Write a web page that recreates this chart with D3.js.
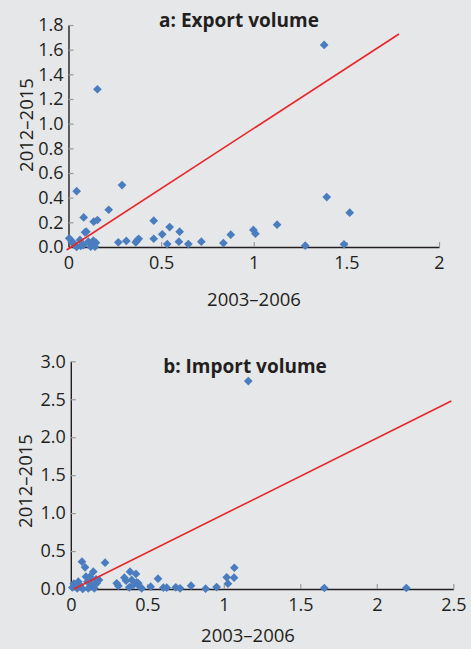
<!DOCTYPE html>
<html>
<head>
<meta charset="utf-8">
<script src="https://cdn.jsdelivr.net/npm/d3@7"></script>
<style>
  html, body { margin: 0; padding: 0; background: #e6e7e9; }
  svg { display: block; }
  text { font-family: "Open Sans", "Liberation Sans", sans-serif; fill: #231f20; }
  .title { font-weight: 700; font-size: 19px; }
  .lbl { font-size: 18.5px; }
  .tick text { font-size: 18px; }
</style>
</head>
<body>
<div id="chart"></div>
<script>
// panel a: export volume (x = 2003-2006, y = 2012-2015)
var exportX = [1.38, 0.156, 0.044, 0.289, 0.217, 0.082, 0.136, 0.156, 0.096, 0.46, 0.46, 0.506, 0.546,
  0.533, 0.6, 0.596, 0.647, 0.717, 0.836, 0.876, 0.269, 0.312, 0.363, 0.379, 0.37,
  0.004, 0.017, 0.035, 0.062, 0.066, 0.089, 0.08, 0.107, 0.125, 0.134, 0.148, 0.12, 0.044, 0.026, 0.143,
  0.998, 1.009, 1.126, 1.278, 1.394, 1.518, 1.487];
var exportY = [1.638, 1.279, 0.453, 0.502, 0.302, 0.24, 0.205, 0.219, 0.124, 0.213, 0.067, 0.103, 0.162,
  0.024, 0.124, 0.043, 0.024, 0.043, 0.032, 0.1, 0.038, 0.049, 0.038, 0.067, 0.052,
  0.07, 0.04, 0.016, 0.057, 0.008, 0.119, 0.016, 0.043, 0.024, 0.051, 0.035, 0.003, 0.0, 0.035, 0.003,
  0.138, 0.108, 0.181, 0.011, 0.405, 0.278, 0.022];
var exportLine = [[-0.01, -0.024], [1.784, 1.727]];

// panel b: import volume
var importX = [1.16, 1.657, 2.193, 1.069, 1.067, 1.019, 1.027, 0.953, 0.881, 0.786, 0.714, 0.686, 0.627, 0.605, 0.57, 0.522,
  0.3, 0.311, 0.35, 0.361, 0.387, 0.398, 0.426, 0.431, 0.441, 0.452, 0.463, 0.382, 0.409,
  0.073, 0.093, 0.224, 0.184, 0.147, 0.125, 0.099, 0.049, 0.034, 0.06, 0.108, 0.114, 0.137, 0.154, 0.169, 0.078, 0.042,
  0.165, 0.141, 0.02, 0.01, 0.13];
var importY = [2.74, 0.013, 0.013, 0.28, 0.149, 0.154, 0.07, 0.026, 0.004, 0.044, 0.009, 0.022, 0.017, 0.017, 0.136, 0.03,
  0.075, 0.04, 0.149, 0.11, 0.228, 0.119, 0.198, 0.088, 0.075, 0.03, 0.009, 0.022, 0.053,
  0.36, 0.286, 0.347, 0.119, 0.228, 0.162, 0.162, 0.096, 0.03, 0.053, 0.096, 0.009, 0.053, 0.009, 0.075, 0.0, 0.009,
  0.128, 0.06, 0.07, 0.02, 0.13];
var importLine = [[0.02, 0.0], [2.487, 2.477]];

var xTicksA = [0, 0.5, 1, 1.5, 2], yTicksA = [0, 0.2, 0.4, 0.6, 0.8, 1.0, 1.2, 1.4, 1.6, 1.8];
var xTicksB = [0, 0.5, 1, 1.5, 2, 2.5], yTicksB = [0, 0.5, 1.0, 1.5, 2.0, 2.5, 3.0];

var W = 471, H = 649;
var svg = d3.select("#chart").append("svg").attr("width", W).attr("height", H);
svg.append("rect").attr("width", W).attr("height", H).attr("fill", "#e6e7e9");

function panel(o) {
  var x = d3.scaleLinear().domain(o.xd).range(o.xr);
  var y = d3.scaleLinear().domain(o.yd).range(o.yr);
  var g = svg.append("g");

  var xa = g.append("g").attr("transform", "translate(0," + o.yr[0] + ")")
    .call(d3.axisBottom(x).tickValues(o.xt).tickSizeInner(-5).tickSizeOuter(0).tickPadding(9).tickFormat(d3.format("")));
  var ya = g.append("g").attr("transform", "translate(" + o.xr[0] + ",0)")
    .call(d3.axisLeft(y).tickValues(o.yt).tickSizeInner(-5).tickSizeOuter(0).tickPadding(5).tickFormat(d3.format(".1f")));
  [xa, ya].forEach(function(a) {
    a.select(".domain").attr("stroke", "#231f20").attr("stroke-width", 1.4);
    a.selectAll(".tick line").attr("stroke", "#9a9a9a").attr("stroke-width", 1.2);
    a.selectAll(".tick text").attr("fill", "#231f20");
  });
  xa.selectAll(".tick").filter(function(d) { return d === 0; }).select("line").remove();
  ya.selectAll(".tick").filter(function(d) { return d === 0; }).select("line").remove();

  g.selectAll(".pt").data(o.xs).enter().append("path").attr("class", "pt")
    .attr("d", d3.symbol().type(d3.symbolSquare).size(38))
    .attr("fill", "#4a7dbf")
    .attr("transform", function(d, i) { return "translate(" + x(d) + "," + y(o.ys[i]) + ") rotate(45)"; });

  g.append("path").datum(o.line)
    .attr("d", d3.line().x(function(d) { return x(d[0]); }).y(function(d) { return y(d[1]); }))
    .attr("fill", "none").attr("stroke", "#e8262a").attr("stroke-width", 1.6);

  g.append("text").attr("class", "title").attr("x", o.tx).attr("y", o.ty).attr("text-anchor", "middle").text(o.title);
  g.append("text").attr("class", "lbl").attr("x", o.xlx).attr("y", o.xly).attr("text-anchor", "middle").text("2003–2006");
  g.append("text").attr("class", "lbl").attr("text-anchor", "middle")
    .attr("transform", "translate(" + o.ylx + "," + o.yly + ") rotate(-90)").text("2012–2015");
}

panel({ xd: [0, 2], xr: [68.5, 439], yd: [0, 1.8], yr: [247, 25], xt: xTicksA, yt: yTicksA,
  xs: exportX, ys: exportY, line: exportLine, title: "a: Export volume", tx: 239, ty: 27,
  xlx: 254, xly: 306, ylx: 33, yly: 125 });
panel({ xd: [0, 2.5], xr: [70.8, 453.3], yd: [0, 3], yr: [589, 361.3], xt: xTicksB, yt: yTicksB,
  xs: importX, ys: importY, line: importLine, title: "b: Import volume", tx: 245, ty: 373,
  xlx: 248, xly: 642, ylx: 32, yly: 481 });
</script>
</body>
</html>
